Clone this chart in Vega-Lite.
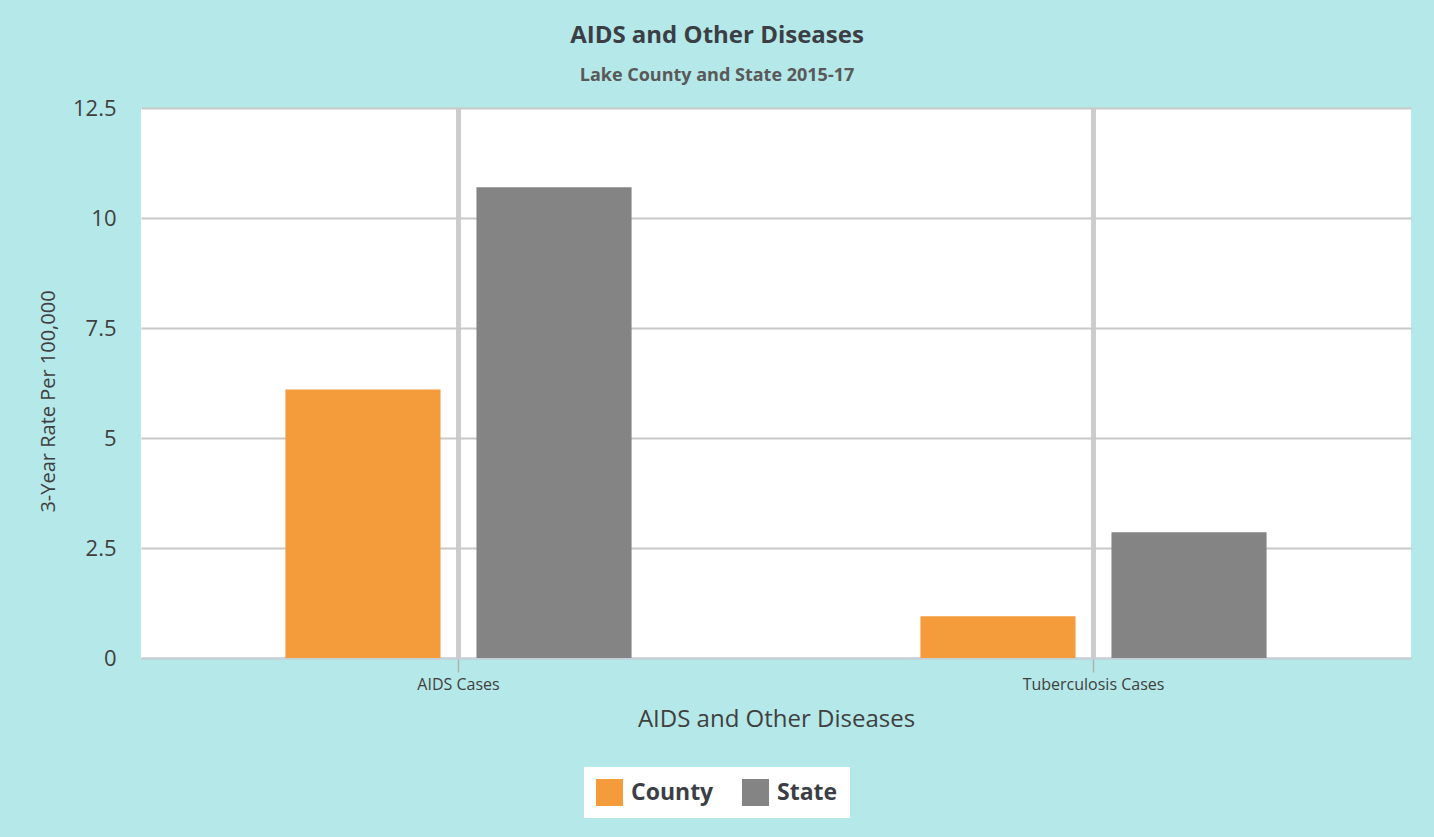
{
  "$schema": "https://vega.github.io/schema/vega-lite/v6.json",
  "width": 1270,
  "height": 550,
  "autosize": {"type": "none"},
  "padding": {"left": 141, "top": 108, "right": 23, "bottom": 179},
  "background": "#b5e8e8",
  "title": {
    "text": "AIDS and Other Diseases",
    "subtitle": "Lake County and State 2015-17",
    "anchor": "middle",
    "dx": -59,
    "offset": 12,
    "font": "Open Sans",
    "fontSize": 24,
    "fontWeight": "bold",
    "color": "#3b3f45",
    "subtitleFont": "Open Sans",
    "subtitleFontSize": 18,
    "subtitleFontWeight": "bold",
    "subtitleColor": "#595959",
    "subtitlePadding": 19
  },
  "data": {
    "values": [
      {"disease": "AIDS Cases", "geo": "County", "rate": 6.1},
      {"disease": "AIDS Cases", "geo": "State", "rate": 10.7},
      {"disease": "Tuberculosis Cases", "geo": "County", "rate": 0.95},
      {"disease": "Tuberculosis Cases", "geo": "State", "rate": 2.86}
    ]
  },
  "mark": {"type": "bar"},
  "encoding": {
    "x": {
      "field": "disease",
      "type": "nominal",
      "scale": {"paddingInner": 0, "paddingOuter": 0},
      "axis": {
        "bandPosition": 0.5,
        "grid": true,
        "gridWidth": 5,
        "gridColor": "#cccccc",
        "ticks": true,
        "tickColor": "#b0b0b0",
        "tickSize": 14,
        "tickWidth": 1.5,
        "domainColor": "#c3d0da",
        "domainWidth": 2,
        "labelFont": "Open Sans",
        "labelFontSize": 16,
        "labelColor": "#404040",
        "labelAngle": 0,
        "labelPadding": 4,
        "title": "AIDS and Other Diseases",
        "titleFont": "Open Sans",
        "titleFontSize": 24,
        "titleFontWeight": "normal",
        "titleColor": "#404040",
        "titlePadding": 15
      }
    },
    "xOffset": {
      "field": "geo",
      "type": "nominal",
      "sort": ["County", "State"],
      "scale": {"paddingInner": 0.188, "paddingOuter": 0.756}
    },
    "y": {
      "field": "rate",
      "type": "quantitative",
      "scale": {"domain": [0, 12.5], "nice": false},
      "axis": {
        "values": [0, 2.5, 5, 7.5, 10, 12.5],
        "labelExpr": "datum.value + ''",
        "grid": true,
        "gridColor": "#c8c8c8",
        "gridWidth": 2,
        "domain": false,
        "ticks": false,
        "labelFont": "Open Sans",
        "labelFontSize": 22,
        "labelColor": "#404040",
        "labelPadding": 25,
        "title": "3-Year Rate Per 100,000",
        "titleFont": "Open Sans",
        "titleFontSize": 20,
        "titleFontWeight": "normal",
        "titleColor": "#404040",
        "titlePadding": 14,
        "titleY": 293
      }
    },
    "color": {
      "field": "geo",
      "type": "nominal",
      "scale": {"domain": ["County", "State"], "range": ["#f49b3c", "#848484"]},
      "legend": {
        "orient": "none",
        "legendX": 443,
        "legendY": 659,
        "direction": "horizontal",
        "fillColor": "white",
        "padding": 12,
        "title": null,
        "symbolType": "square",
        "symbolSize": 729,
        "symbolStrokeWidth": 0,
        "symbolOpacity": 1,
        "labelFont": "Open Sans",
        "labelFontSize": 23,
        "labelFontWeight": "bold",
        "labelColor": "#3b3f45",
        "labelOffset": 8,
        "columnPadding": 28
      }
    }
  },
  "config": {"view": {"fill": "white", "stroke": null}}
}
